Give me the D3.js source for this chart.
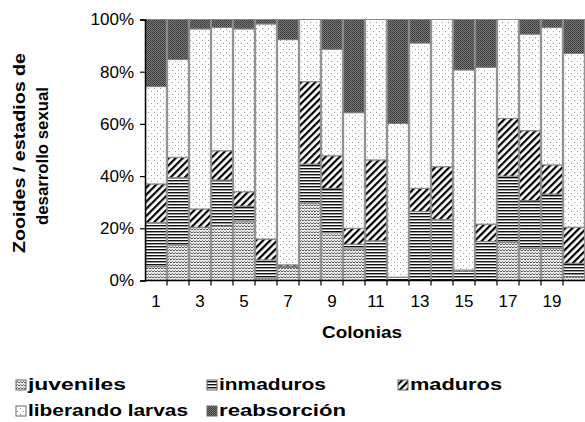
<!DOCTYPE html>
<html>
<head>
<meta charset="utf-8">
<script src="https://cdn.jsdelivr.net/npm/d3@7"></script>
<style>
  body { margin: 0; background: #fff; }
  text { font-family: "Liberation Sans", Arial, sans-serif; fill: #000; }
</style>
</head>
<body>
<div id="chart"></div>
<script>
// colonias 1..20, porcentaje de zooides por estadio
var colonias = ["1","2","3","4","5","6","7","8","9","10","11","12","13","14","15","16","17","18","19","20"];
var juveniles   = [5.3,13.6,20.4,20.9,22.5,0.7,5,29.6,18.3,12.1,0,0,0,0,0,0,14.6,12.3,12.3,1.5];
var inmaduros   = [16.9,25.8,0,17.6,6,7.2,0.4,15,17,1.8,15.2,1.3,26.4,23.4,3.5,14.9,25.4,18.3,20.8,5.1];
var maduros     = [14.8,7.8,7,11.2,5.5,8,0.6,31.6,12.5,6.1,31,0,8.9,20.2,0.5,6.7,22.1,26.8,11.2,13.8];
var liberando   = [37.3,37.5,69,47.3,62.4,82.4,86.3,23.8,40.8,44.3,53.8,58.9,55.7,56.4,76.7,60.1,37.9,37,52.7,66.6];
var reabsorcion = [25.7,15.3,3.6,3,3.6,1.7,7.7,0,11.4,35.7,0,39.8,9,0,19.3,18.3,0,5.6,3,13];

var series = ["juveniles","inmaduros","maduros","liberando larvas","reabsorción"];
var yTicks = [0, 0.2, 0.4, 0.6, 0.8, 1];
var xLabels = ["1","3","5","7","9","11","13","15","17","19"];

var width = 585, height = 422;
var margin = {top: 19.5, right: 0, bottom: 141.5, left: 145};

var svg = d3.select("#chart")
  .append("svg")
  .attr("width", width)
  .attr("height", height);

// patterns
var defs = svg.append("defs");

var pJuv = defs.append("pattern").attr("id", "p0")
  .attr("patternUnits", "userSpaceOnUse").attr("width", 6).attr("height", 3);
pJuv.append("rect").attr("width", 6).attr("height", 3).attr("fill", "#eee");
pJuv.append("path").attr("d", "M0,2 L1.5,0.6 L3,2 L4.5,0.6 L6,2")
  .attr("fill", "none").attr("stroke", "#555").attr("stroke-width", 1);

var pInm = defs.append("pattern").attr("id", "p1")
  .attr("patternUnits", "userSpaceOnUse").attr("width", 4).attr("height", 3);
pInm.append("rect").attr("width", 4).attr("height", 3).attr("fill", "#fff");
pInm.append("rect").attr("y", 0).attr("width", 4).attr("height", 1).attr("fill", "#111");
pInm.append("rect").attr("y", 1).attr("width", 4).attr("height", 1).attr("fill", "#999");

var pMad = defs.append("pattern").attr("id", "p2")
  .attr("patternUnits", "userSpaceOnUse").attr("width", 5).attr("height", 5)
  .attr("patternTransform", "rotate(45)");
pMad.append("rect").attr("width", 5).attr("height", 5).attr("fill", "#fff");
pMad.append("rect").attr("x", 0).attr("width", 2.2).attr("height", 5).attr("fill", "#000");

var pLib = defs.append("pattern").attr("id", "p3")
  .attr("patternUnits", "userSpaceOnUse").attr("width", 6).attr("height", 6);
pLib.append("rect").attr("width", 6).attr("height", 6).attr("fill", "#fff");
pLib.append("rect").attr("x", 1).attr("y", 1).attr("width", 1).attr("height", 1).attr("fill", "#999");
pLib.append("rect").attr("x", 4).attr("y", 4).attr("width", 1).attr("height", 1).attr("fill", "#999");

var pReab = defs.append("pattern").attr("id", "p4")
  .attr("patternUnits", "userSpaceOnUse").attr("width", 2).attr("height", 2);
pReab.append("rect").attr("width", 2).attr("height", 2).attr("fill", "#7a7a7a");
pReab.append("rect").attr("width", 1).attr("height", 1).attr("fill", "#333");
pReab.append("rect").attr("x", 1).attr("y", 1).attr("width", 1).attr("height", 1).attr("fill", "#444");

var fills = ["url(#p0)","url(#p1)","url(#p2)","url(#p3)","url(#p4)"];

// table for d3.stack
var table = colonias.map(function(c, i) {
  var row = {colonia: c};
  row[series[0]] = juveniles[i];
  row[series[1]] = inmaduros[i];
  row[series[2]] = maduros[i];
  row[series[3]] = liberando[i];
  row[series[4]] = reabsorcion[i];
  return row;
});

var stacked = d3.stack().keys(series).offset(d3.stackOffsetExpand)(table);

var x = d3.scaleBand()
  .domain(colonias)
  .range([margin.left, width - margin.right])
  .paddingInner(0.06)
  .paddingOuter(0.03);

var y = d3.scaleLinear()
  .domain([0, 1])
  .range([height - margin.bottom, margin.top]);

// bars
svg.append("g").selectAll("g")
  .data(stacked)
  .join("g")
  .attr("fill", function(d, i) { return fills[i]; })
  .selectAll("rect")
  .data(function(d) { return d.filter(function(s) { return s[1] - s[0] > 0; }); })
  .join("rect")
  .attr("x", function(d) { return x(d.data.colonia); })
  .attr("y", function(d) { return y(d[1]); })
  .attr("width", x.bandwidth())
  .attr("height", function(d) { return y(d[0]) - y(d[1]); })
  .attr("stroke", "#808080")
  .attr("stroke-width", 1);

// top frame line
svg.append("line")
  .attr("x1", margin.left).attr("x2", width)
  .attr("y1", y(1)).attr("y2", y(1))
  .attr("stroke", "#888").attr("stroke-width", 1);

// y axis
var yAxis = svg.append("g")
  .attr("transform", "translate(" + margin.left + ",0)")
  .call(d3.axisLeft(y).tickValues(yTicks).tickFormat(d3.format(".0%")).tickSize(5).tickPadding(6));
yAxis.select(".domain").attr("stroke", "#000").attr("stroke-width", 1.5);
yAxis.selectAll(".tick line").attr("stroke", "#000").attr("stroke-width", 1.2);
yAxis.selectAll("text").style("font-size", "17px").attr("fill", "#000");

// x axis: ticks between categories
var xAxisG = svg.append("g")
  .attr("transform", "translate(0," + y(0) + ")");
xAxisG.append("line")
  .attr("x1", margin.left).attr("x2", width)
  .attr("stroke", "#000").attr("stroke-width", 1.5);
xAxisG.selectAll(".xt")
  .data(colonias.slice(1))
  .join("line")
  .attr("class", "xt")
  .attr("x1", function(d) { return x(d) - x.step() * x.paddingInner() / 2; })
  .attr("x2", function(d) { return x(d) - x.step() * x.paddingInner() / 2; })
  .attr("y1", 0).attr("y2", 5)
  .attr("stroke", "#000").attr("stroke-width", 1.2);
xAxisG.selectAll(".xl")
  .data(xLabels)
  .join("text")
  .attr("class", "xl")
  .attr("x", function(d) { return x(d) + x.bandwidth() / 2; })
  .attr("y", 26.5)
  .attr("text-anchor", "middle")
  .style("font-size", "17px")
  .text(function(d) { return d; });

// axis titles
svg.append("text")
  .attr("x", 362).attr("y", 338)
  .attr("text-anchor", "middle")
  .attr("textLength", 80)
  .attr("lengthAdjust", "spacingAndGlyphs")
  .style("font-size", "17px").style("font-weight", "bold")
  .text("Colonias");

svg.append("text")
  .attr("transform", "translate(25,153) rotate(-90)")
  .attr("text-anchor", "middle")
  .attr("textLength", 200)
  .attr("lengthAdjust", "spacingAndGlyphs")
  .style("font-size", "17px").style("font-weight", "bold")
  .text("Zooides / estadios de");

svg.append("text")
  .attr("transform", "translate(48,156) rotate(-90)")
  .attr("text-anchor", "middle")
  .attr("textLength", 138)
  .attr("lengthAdjust", "spacingAndGlyphs")
  .style("font-size", "17px").style("font-weight", "bold")
  .text("desarrollo sexual");

// legend
var legendPos = [[16, 390, 98], [207, 390, 107], [398, 390, 92], [16, 416, 160], [207, 416, 127]];
var legend = svg.append("g").selectAll("g")
  .data(series)
  .join("g")
  .attr("transform", function(d, i) { return "translate(" + legendPos[i][0] + "," + legendPos[i][1] + ")"; });
legend.append("rect")
  .attr("x", 0).attr("y", -10)
  .attr("width", 10).attr("height", 10)
  .attr("fill", function(d, i) { return fills[i]; })
  .attr("stroke", "#666").attr("stroke-width", 1);
legend.append("text")
  .attr("x", 12).attr("y", 0)
  .attr("textLength", function(d, i) { return legendPos[i][2]; })
  .attr("lengthAdjust", "spacingAndGlyphs")
  .style("font-size", "17px").style("font-weight", "bold")
  .text(function(d) { return d; });
</script>
</body>
</html>
